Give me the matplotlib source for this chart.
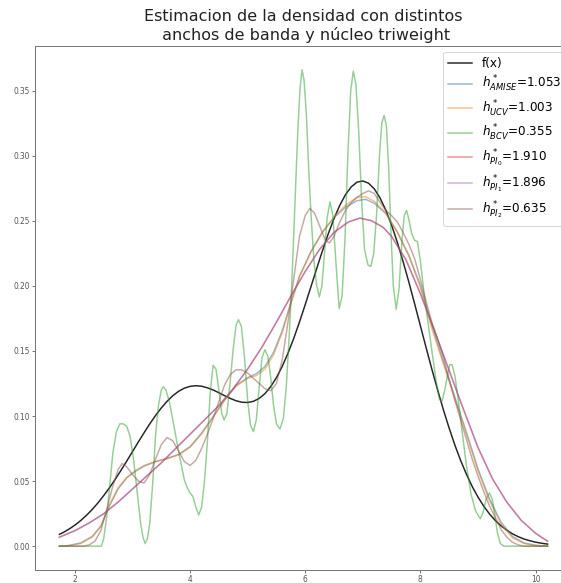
import matplotlib
matplotlib.use("Agg")
import matplotlib.pyplot as plt
from matplotlib.ticker import FormatStrFormatter

# True density f(x)
x_f = [1.73, 1.8, 1.9, 2.0, 2.1, 2.2, 2.3, 2.4, 2.5, 2.6, 2.7, 2.8, 2.9, 3.0, 3.1, 3.2,
       3.3, 3.4, 3.5, 3.6, 3.7, 3.8, 3.9, 4.0, 4.1, 4.2, 4.3, 4.4, 4.5, 4.6, 4.7, 4.8,
       4.9, 5.0, 5.1, 5.2, 5.3, 5.4, 5.5, 5.6, 5.7, 5.8, 5.9, 6.0, 6.1, 6.2, 6.3, 6.4,
       6.5, 6.6, 6.7, 6.8, 6.9, 7.0, 7.1, 7.2, 7.3, 7.4, 7.5, 7.6, 7.7, 7.8, 7.9, 8.0,
       8.1, 8.2, 8.3, 8.4, 8.5, 8.6, 8.7, 8.8, 8.9, 9.0, 9.1, 9.2, 9.3, 9.4, 9.5, 9.6,
       9.7, 9.8, 9.9, 10.0, 10.1, 10.21]
y_f = [0.0091, 0.0106, 0.0132, 0.0162, 0.0197, 0.0237, 0.0282, 0.0333, 0.0389, 0.0449,
       0.0514, 0.0583, 0.0654, 0.0727, 0.0800, 0.0871, 0.0940, 0.1004, 0.1062, 0.1113,
       0.1156, 0.1190, 0.1214, 0.1228, 0.1233, 0.1229, 0.1217, 0.1200, 0.1179, 0.1156,
       0.1135, 0.1117, 0.1106, 0.1104, 0.1113, 0.1135, 0.1172, 0.1226, 0.1295, 0.1381,
       0.1482, 0.1596, 0.1722, 0.1856, 0.1995, 0.2134, 0.2271, 0.2400, 0.2517, 0.2619,
       0.2701, 0.2761, 0.2797, 0.2806, 0.2789, 0.2745, 0.2675, 0.2582, 0.2467, 0.2334,
       0.2187, 0.2029, 0.1863, 0.1694, 0.1525, 0.1359, 0.1200, 0.1048, 0.0907, 0.0776,
       0.0658, 0.0553, 0.0459, 0.0378, 0.0308, 0.0248, 0.0198, 0.0157, 0.0123, 0.0095,
       0.0073, 0.0055, 0.0042, 0.0031, 0.0023, 0.0016]

# KDE with h_AMISE and h_UCV
x_mid = [1.73, 1.9, 2.1, 2.3, 2.45, 2.6, 2.75, 2.9, 3.05, 3.2, 3.4, 3.6, 3.8, 4.0, 4.2,
         4.4, 4.6, 4.8, 5.0, 5.15, 5.3, 5.45, 5.6, 5.75, 5.9, 6.1, 6.3, 6.5, 6.7, 6.9,
         7.05, 7.2, 7.4, 7.6, 7.8, 8.0, 8.2, 8.4, 8.6, 8.8, 9.0, 9.2, 9.4, 9.6, 9.8,
         10.0, 10.21]
y_amise = [0.0, 0.0006, 0.0025, 0.0075, 0.0155, 0.031, 0.044, 0.0525, 0.0575, 0.0615,
           0.065, 0.0675, 0.0705, 0.0765, 0.087, 0.0995, 0.1125, 0.1235, 0.1295, 0.1325,
           0.138, 0.149, 0.1655, 0.187, 0.2075, 0.2265, 0.2415, 0.2525, 0.2605, 0.2655,
           0.2665, 0.2635, 0.2555, 0.2415, 0.2235, 0.2005, 0.1695, 0.1415, 0.1145, 0.0875,
           0.0595, 0.0365, 0.0185, 0.0075, 0.0025, 0.0007, 0.0]
y_ucv = [0.0, 0.0004, 0.002, 0.007, 0.015, 0.032, 0.045, 0.053, 0.058, 0.062,
         0.065, 0.067, 0.070, 0.076, 0.086, 0.099, 0.112, 0.123, 0.129, 0.131,
         0.136, 0.147, 0.164, 0.186, 0.207, 0.226, 0.241, 0.253, 0.262, 0.268,
         0.2685, 0.265, 0.256, 0.241, 0.223, 0.199, 0.167, 0.140, 0.113, 0.086,
         0.058, 0.035, 0.017, 0.0065, 0.002, 0.0005, 0.0]

# KDE with h_BCV
x_bcv = [1.73, 2.46, 2.5, 2.55, 2.6, 2.66, 2.72, 2.78, 2.84, 2.9, 2.96, 3.02, 3.08, 3.14,
         3.18, 3.22, 3.26, 3.3, 3.35, 3.4, 3.45, 3.5, 3.535, 3.58, 3.64, 3.7, 3.77, 3.84,
         3.9, 3.95, 4.0, 4.05, 4.1, 4.15, 4.2, 4.25, 4.3, 4.35, 4.4, 4.45, 4.5, 4.55,
         4.59, 4.64, 4.7, 4.75, 4.8, 4.84, 4.89, 4.94, 5.0, 5.05, 5.1, 5.15, 5.2, 5.25,
         5.3, 5.35, 5.4, 5.45, 5.5, 5.56, 5.62, 5.67, 5.72, 5.77, 5.82, 5.87, 5.91, 5.945,
         5.98, 6.02, 6.06, 6.1, 6.15, 6.2, 6.245, 6.29, 6.33, 6.38, 6.43, 6.48, 6.53,
         6.59, 6.64, 6.69, 6.74, 6.79, 6.835, 6.88, 6.93, 6.98, 7.03, 7.09, 7.14, 7.19,
         7.24, 7.29, 7.33, 7.37, 7.41, 7.45, 7.49, 7.53, 7.58, 7.63, 7.68, 7.72, 7.76,
         7.8, 7.85, 7.9, 7.95, 8.0, 8.06, 8.12, 8.2, 8.28, 8.33, 8.37, 8.42, 8.47, 8.51,
         8.55, 8.6, 8.66, 8.72, 8.8, 8.88, 8.96, 9.04, 9.09, 9.14, 9.2, 9.25, 9.3, 9.34,
         9.39, 9.45, 10.21]
y_bcv = [0.0, 0.0, 0.006, 0.022, 0.045, 0.072, 0.088, 0.094, 0.094, 0.092, 0.084, 0.066,
         0.042, 0.018, 0.007, 0.002, 0.006, 0.018, 0.048, 0.085, 0.108, 0.12, 0.1225,
         0.12, 0.111, 0.097, 0.080, 0.064, 0.051, 0.045, 0.041, 0.038, 0.030, 0.024,
         0.030, 0.050, 0.080, 0.118, 0.139, 0.136, 0.120, 0.102, 0.097, 0.102, 0.128,
         0.152, 0.170, 0.174, 0.169, 0.148, 0.112, 0.093, 0.088, 0.097, 0.122, 0.145,
         0.151, 0.146, 0.130, 0.108, 0.094, 0.090, 0.098, 0.122, 0.160, 0.205, 0.262,
         0.318, 0.352, 0.366, 0.358, 0.332, 0.290, 0.255, 0.220, 0.200, 0.1915, 0.200,
         0.222, 0.252, 0.2646, 0.254, 0.220, 0.1826, 0.192, 0.235, 0.300, 0.350, 0.365,
         0.355, 0.318, 0.265, 0.228, 0.216, 0.215, 0.225, 0.255, 0.300, 0.325, 0.331,
         0.323, 0.290, 0.240, 0.200, 0.182, 0.198, 0.235, 0.254, 0.258, 0.251, 0.240,
         0.235, 0.234, 0.219, 0.196, 0.176, 0.150, 0.125, 0.113, 0.111, 0.119, 0.131,
         0.1395, 0.1395, 0.131, 0.112, 0.090, 0.062, 0.040, 0.027, 0.021, 0.026, 0.036,
         0.041, 0.036, 0.022, 0.010, 0.002, 0.0, 0.0]

# KDE with h_PI0 and h_PI1
x_pi = [1.73, 2.0, 2.25, 2.5, 2.75, 3.0, 3.25, 3.5, 3.75, 4.0, 4.25, 4.5, 4.75, 5.0,
        5.25, 5.5, 5.75, 6.0, 6.25, 6.5, 6.75, 6.95, 7.15, 7.35, 7.5, 7.75, 8.0, 8.25,
        8.5, 8.75, 9.0, 9.25, 9.5, 9.75, 10.0, 10.21]
y_pi0 = [0.007, 0.012, 0.018, 0.025, 0.034, 0.044, 0.054, 0.064, 0.075, 0.086, 0.097,
         0.108, 0.121, 0.136, 0.153, 0.172, 0.192, 0.211, 0.228, 0.241, 0.249, 0.252,
         0.250, 0.245, 0.238, 0.220, 0.194, 0.165, 0.135, 0.105, 0.076, 0.052, 0.034,
         0.020, 0.010, 0.0038]
y_pi1 = [0.0068, 0.0118, 0.0178, 0.0248, 0.0338, 0.0439, 0.0540, 0.0640, 0.0751, 0.0861,
         0.0971, 0.1081, 0.1211, 0.1362, 0.1532, 0.1722, 0.1922, 0.2112, 0.2282, 0.2412,
         0.2492, 0.2522, 0.2502, 0.2452, 0.2381, 0.2201, 0.1941, 0.1650, 0.1350, 0.1049,
         0.0759, 0.0519, 0.0339, 0.0199, 0.0099, 0.0037]

# KDE with h_PI2
x_pi2 = [1.73, 2.15, 2.25, 2.35, 2.45, 2.55, 2.65, 2.75, 2.82, 2.9, 3.0, 3.1, 3.2, 3.3,
         3.4, 3.5, 3.6, 3.7, 3.8, 3.9, 4.0, 4.1, 4.2, 4.3, 4.4, 4.5, 4.6, 4.7, 4.8, 4.9,
         5.0, 5.1, 5.2, 5.3, 5.4, 5.5, 5.6, 5.7, 5.8, 5.9, 6.0, 6.08, 6.16, 6.26, 6.35,
         6.42, 6.5, 6.6, 6.7, 6.8, 6.9, 7.0, 7.1, 7.2, 7.3, 7.4, 7.5, 7.6, 7.7, 7.8, 7.9,
         8.0, 8.1, 8.2, 8.3, 8.4, 8.5, 8.6, 8.7, 8.8, 8.9, 9.0, 9.1, 9.2, 9.3, 9.4, 9.5,
         9.6, 9.7, 9.8, 10.21]
y_pi2 = [0.0, 0.0, 0.001, 0.004, 0.012, 0.028, 0.045, 0.059, 0.0635, 0.061, 0.055, 0.050,
         0.0485, 0.055, 0.067, 0.078, 0.0835, 0.081, 0.073, 0.065, 0.062, 0.066, 0.075,
         0.086, 0.098, 0.111, 0.124, 0.132, 0.1355, 0.1355, 0.133, 0.129, 0.125, 0.121,
         0.1195, 0.125, 0.143, 0.172, 0.205, 0.238, 0.254, 0.2595, 0.256, 0.245, 0.235,
         0.233, 0.238, 0.249, 0.258, 0.264, 0.268, 0.271, 0.273, 0.271, 0.264, 0.258,
         0.254, 0.249, 0.241, 0.232, 0.221, 0.205, 0.188, 0.172, 0.159, 0.145, 0.128,
         0.112, 0.097, 0.082, 0.067, 0.054, 0.042, 0.031, 0.022, 0.013, 0.007, 0.003,
         0.001, 0.0, 0.0]

labels = ["f(x)",
          r"$h^*_{AMISE}$=1.053",
          r"$h^*_{UCV}$=1.003",
          r"$h^*_{BCV}$=0.355",
          r"$h^*_{PI_0}$=1.910",
          r"$h^*_{PI_1}$=1.896",
          r"$h^*_{PI_2}$=0.635"]

W, H, DPI = 561, 583, 72
fig = plt.figure(figsize=(W / DPI, H / DPI), dpi=DPI)
ax = fig.add_axes([35 / W, 13 / H, 537 / W, 524 / H])

ax.plot(x_f, y_f, color="black", lw=1.5, alpha=0.85, label=labels[0])
ax.plot(x_mid, y_amise, color="tab:blue", lw=1.5, alpha=0.5, label=labels[1])
ax.plot(x_mid, y_ucv, color="tab:orange", lw=1.5, alpha=0.5, label=labels[2])
ax.plot(x_bcv, y_bcv, color="tab:green", lw=1.5, alpha=0.5, label=labels[3])
ax.plot(x_pi, y_pi0, color="tab:red", lw=1.5, alpha=0.5, label=labels[4])
ax.plot(x_pi, y_pi1, color="tab:purple", lw=1.5, alpha=0.5, label=labels[5])
ax.plot(x_pi2, y_pi2, color="tab:brown", lw=1.5, alpha=0.5, label=labels[6])

ax.set_xticks([2, 4, 6, 8, 10])
ax.set_yticks([0.0, 0.05, 0.10, 0.15, 0.20, 0.25, 0.30, 0.35])
ax.yaxis.set_major_formatter(FormatStrFormatter("%.2f"))
ax.tick_params(labelsize=7.5, colors="#555555", length=3, width=0.8, pad=2.5)
for sp in ax.spines.values():
    sp.set_color("#777777")
    sp.set_linewidth(1.0)

ax.set_title("Estimacion de la densidad con distintos\n anchos de banda y núcleo triweight",
             fontsize=16, color="#222222", pad=6)
ax.legend(loc="upper right", fontsize=12, labelspacing=0.36)

fig.savefig("out.png", dpi=DPI)
